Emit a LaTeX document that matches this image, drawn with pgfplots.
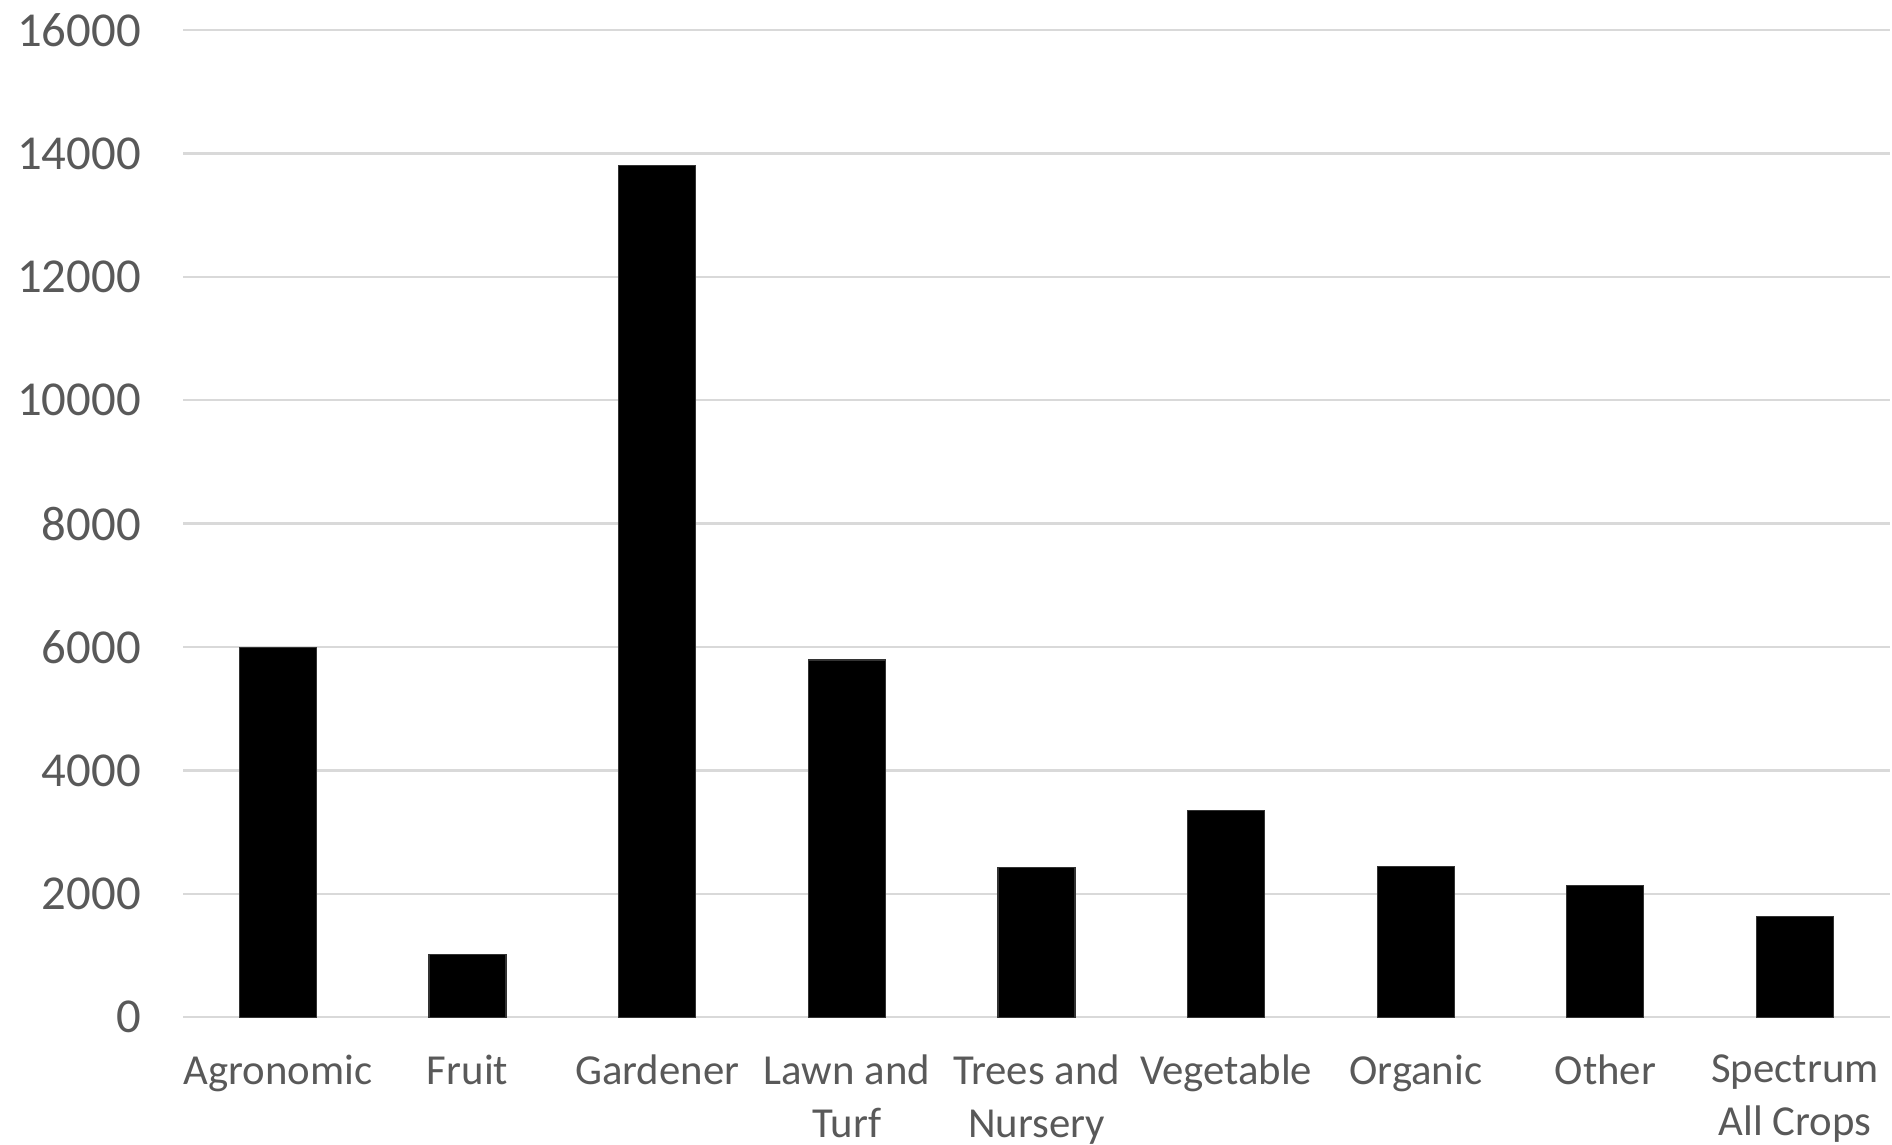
\documentclass[border=0pt]{standalone}
\usepackage{pgfplots}
\pgfplotsset{compat=1.18}
\usepackage{fontspec}
\setmainfont{Carlito}
\definecolor{txtc}{HTML}{595959}
\definecolor{gridc}{HTML}{D9D9D9}
\begin{document}
\begin{tikzpicture}
\begin{axis}[
  scale only axis,
  width=427pt, height=247pt,
  ybar, bar width=0.406,
  xmin=-0.5, xmax=8.5,
  ymin=0, ymax=16000,
  ytick={0,2000,...,16000},
  xtick=data,
  xticklabels={Agronomic,Fruit,Gardener,Lawn and\\Turf,Trees and\\Nursery,Vegetable,Organic,Other,Spectrum\\All Crops},
  xticklabel style={align=center, text=txtc, inner ysep=0pt, yshift=-9.3pt, font=\fontsize{10.7}{13.1}\selectfont},
  yticklabel style={text=txtc, inner xsep=4.3pt, xshift=-6.1pt, font=\fontsize{12.2}{14}\selectfont},
  /pgf/number format/assume math mode=true,
  /pgf/number format/1000 sep={},
  scaled y ticks=false,
  major tick length=0pt,
  xmajorgrids=false,
  ymajorgrids=true,
  grid style={draw=gridc, line width=0.6pt},
  axis line style={draw=none},
  tick style={draw=none},
]
\addplot[fill=black, draw=black!80, line width=0.3pt] coordinates {
(0,5990) (1,1020) (2,13800) (3,5790) (4,2420) (5,3350) (6,2440) (7,2130) (8,1630)};
\end{axis}
\end{tikzpicture}
\end{document}
